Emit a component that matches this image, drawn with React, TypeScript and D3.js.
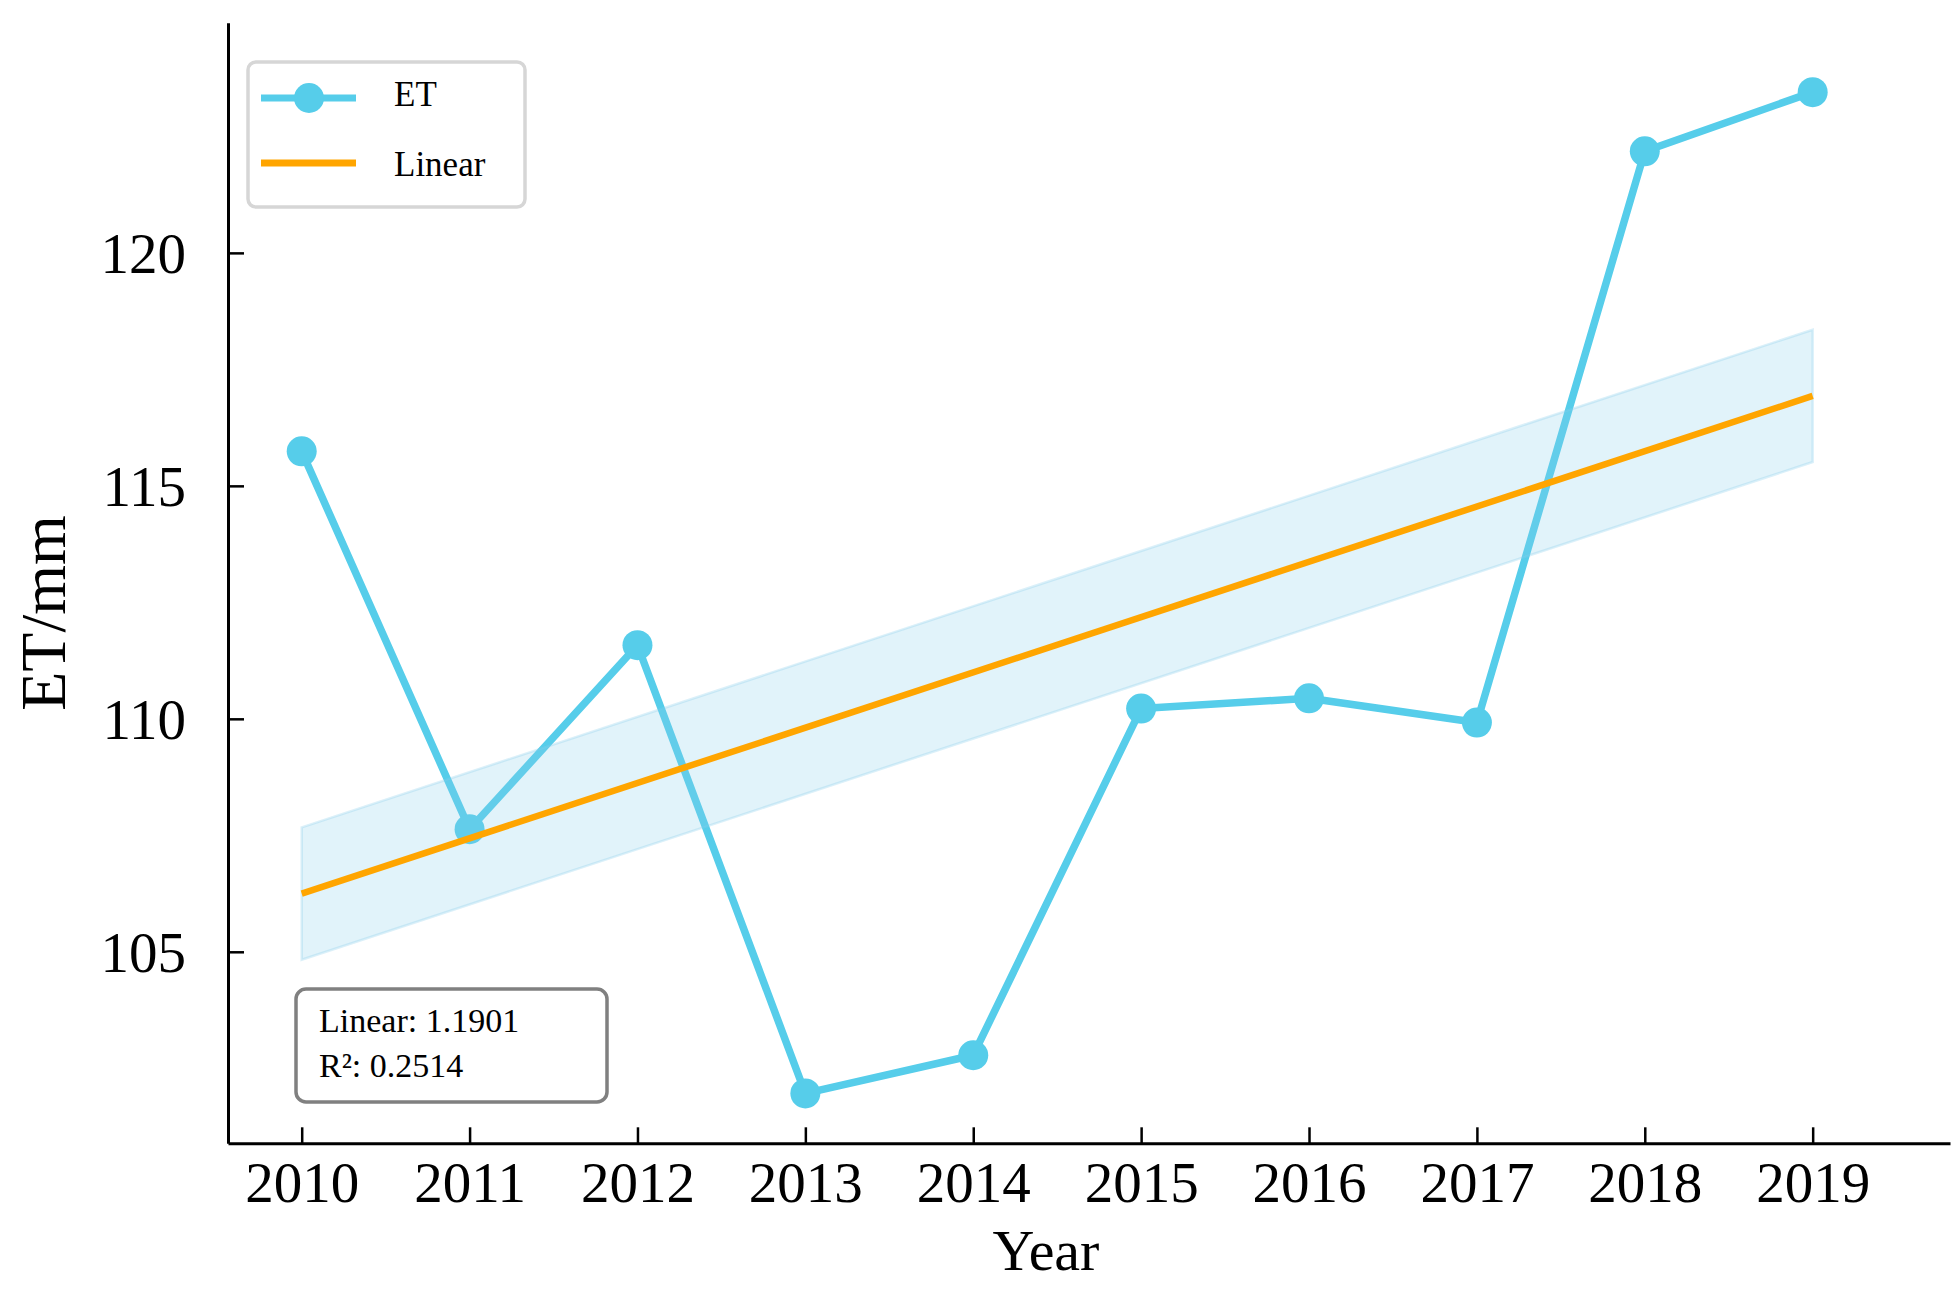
import { useEffect, useRef } from 'react';
import * as d3 from 'd3';

// ET per year
const years = [2010, 2011, 2012, 2013, 2014, 2015, 2016, 2017, 2018, 2019];
const etValues = [115.74, 107.63, 111.58, 101.96, 102.78, 110.22, 110.44, 109.92, 122.18, 123.45];
const yTicks = [105, 110, 115, 120];
const bandHalfWidth = 1.42;
const statsLines = ['Linear: 1.1901', 'R\u00b2: 0.2514'];
const legendLabels = ['ET', 'Linear'];

const WIDTH = 1959;
const HEIGHT = 1293;
const FONT = '"Liberation Serif", "Times New Roman", Times, serif';
const ET_COLOR = '#56CDEA';
const LINEAR_COLOR = '#FFA500';

export default function App() {
  const svgRef = useRef<SVGSVGElement>(null);

  useEffect(() => {
    document.body.style.margin = '0';
    if (!svgRef.current) return;

    const svg = d3.select(svgRef.current);
    svg.selectAll('*').remove();

    const left = 228;
    const right = 1950;
    const top = 22.7;
    const bottom = 1143.3;

    const x = d3.scaleLinear().domain([2009.561, 2019.818]).range([left, right]);
    const y = d3.scaleLinear().domain([100.89, 124.94]).range([bottom, top]);

    // least squares fit of the ET series
    const mx = d3.mean(years) as number;
    const my = d3.mean(etValues) as number;
    const sxy = d3.sum(years, (d, i) => (d - mx) * (etValues[i] - my));
    const sxx = d3.sum(years, (d) => (d - mx) ** 2);
    const slope = sxy / sxx;
    const fit = (yr: number) => my + slope * (yr - mx);

    const points = years.map((yr, i) => ({ yr, v: etValues[i] }));

    // ET line + markers
    const line = d3
      .line<{ yr: number; v: number }>()
      .x((d) => x(d.yr))
      .y((d) => y(d.v));

    svg
      .append('path')
      .datum(points)
      .attr('d', line)
      .attr('fill', 'none')
      .attr('stroke', ET_COLOR)
      .attr('stroke-width', 7.5)
      .attr('stroke-linejoin', 'round');

    svg
      .selectAll('.pt')
      .data(points)
      .enter()
      .append('circle')
      .attr('class', 'pt')
      .attr('cx', (d) => x(d.yr))
      .attr('cy', (d) => y(d.v))
      .attr('r', 15)
      .attr('fill', ET_COLOR);

    // band around the fit
    const band = d3
      .area<number>()
      .x((d) => x(d))
      .y0((d) => y(fit(d) - bandHalfWidth))
      .y1((d) => y(fit(d) + bandHalfWidth));

    const ends = [years[0], years[years.length - 1]];
    svg
      .append('path')
      .datum(ends)
      .attr('d', band)
      .attr('fill', 'rgba(135,206,235,0.25)')
      .attr('stroke', 'rgba(135,206,235,0.3)')
      .attr('stroke-width', 2.5);

    svg
      .append('line')
      .attr('x1', x(ends[0]))
      .attr('y1', y(fit(ends[0])))
      .attr('x2', x(ends[1]))
      .attr('y2', y(fit(ends[1])))
      .attr('stroke', LINEAR_COLOR)
      .attr('stroke-width', 6.5);

    // axes, ticks pointing inward
    const xAxis = svg
      .append('g')
      .attr('transform', `translate(0,${bottom})`)
      .call(d3.axisBottom(x).tickValues(years).tickFormat(d3.format('d')).tickSize(-16).tickSizeOuter(0));
    xAxis.select('.domain').attr('stroke', '#000').attr('stroke-width', 3);
    xAxis.selectAll('.tick line').attr('stroke', '#000').attr('stroke-width', 2.5);
    xAxis
      .selectAll('.tick text')
      .attr('y', 58.5)
      .attr('dy', 0)
      .attr('font-size', 57)
      .attr('font-family', FONT)
      .attr('fill', '#000');

    const yAxis = svg
      .append('g')
      .attr('transform', `translate(${left},0)`)
      .call(d3.axisLeft(y).tickValues(yTicks).tickSize(-16).tickSizeOuter(0));
    yAxis.select('.domain').attr('stroke', '#000').attr('stroke-width', 3);
    yAxis.selectAll('.tick line').attr('stroke', '#000').attr('stroke-width', 2.5);
    yAxis
      .selectAll('.tick text')
      .attr('x', -42)
      .attr('dy', '0.35em')
      .attr('font-size', 57)
      .attr('font-family', FONT)
      .attr('fill', '#000');

    // axis titles
    svg
      .append('text')
      .attr('x', 1046)
      .attr('y', 1270)
      .attr('text-anchor', 'middle')
      .attr('font-size', 58)
      .attr('font-family', FONT)
      .text('Year');

    svg
      .append('text')
      .attr('transform', 'translate(65,613) rotate(-90)')
      .attr('text-anchor', 'middle')
      .attr('font-size', 64)
      .attr('font-family', FONT)
      .text('ET/mm');

    // legend
    const legend = svg.append('g');
    legend
      .append('rect')
      .attr('x', 248)
      .attr('y', 62)
      .attr('width', 277)
      .attr('height', 145)
      .attr('rx', 8)
      .attr('fill', '#fff')
      .attr('stroke', '#d6d6d6')
      .attr('stroke-width', 3.5);

    legend
      .append('line')
      .attr('x1', 261)
      .attr('x2', 356)
      .attr('y1', 98)
      .attr('y2', 98)
      .attr('stroke', ET_COLOR)
      .attr('stroke-width', 7);
    legend.append('circle').attr('cx', 309).attr('cy', 98).attr('r', 15).attr('fill', ET_COLOR);
    legend
      .append('line')
      .attr('x1', 261)
      .attr('x2', 356)
      .attr('y1', 163)
      .attr('y2', 163)
      .attr('stroke', LINEAR_COLOR)
      .attr('stroke-width', 7);

    legendLabels.forEach((label, i) => {
      legend
        .append('text')
        .attr('x', 394)
        .attr('y', 106 + i * 70)
        .attr('font-size', 35)
        .attr('font-family', FONT)
        .text(label);
    });

    // stats box
    const stats = svg.append('g');
    stats
      .append('rect')
      .attr('x', 296)
      .attr('y', 989)
      .attr('width', 311)
      .attr('height', 113)
      .attr('rx', 10)
      .attr('fill', '#fff')
      .attr('stroke', '#808080')
      .attr('stroke-width', 3.5);

    statsLines.forEach((s, i) => {
      stats
        .append('text')
        .attr('x', 319)
        .attr('y', 1032 + i * 45)
        .attr('font-size', 34)
        .attr('font-family', FONT)
        .text(s);
    });
  }, []);

  return <svg ref={svgRef} width={WIDTH} height={HEIGHT} style={{ display: 'block', background: '#fff' }} />;
}
